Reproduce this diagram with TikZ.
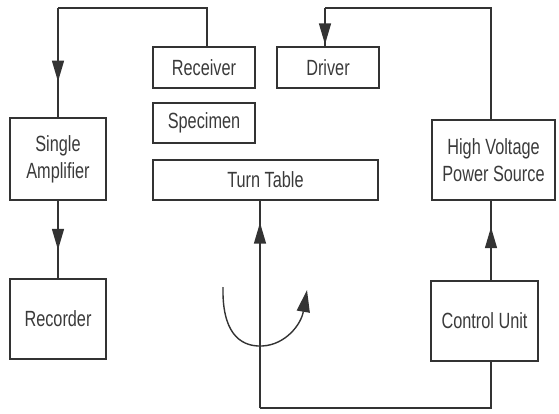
\documentclass[tikz,border=0pt]{standalone}
\usepackage{fontspec}
\newfontfamily\narrowfont[FakeStretch=0.74]{Liberation Sans}
\usetikzlibrary{arrows.meta,decorations.markings}
\definecolor{ink}{HTML}{333333}
\definecolor{txt}{HTML}{3A3A3A}
\tikzset{
  box/.style={draw=ink,line width=1.4pt,inner sep=0pt,align=center,text=txt,
    font=\narrowfont\fontsize{22}{27}\selectfont},
  wire/.style={draw=ink,line width=1.4pt},
  midarrow/.style={postaction={decorate,decoration={markings,
    mark=at position #1 with {\arrow[ink]{Triangle[length=21pt,width=12pt]}}}}}
}
\begin{document}
\begin{tikzpicture}[x=1pt,y=-1pt]
\useasboundingbox (0,0) rectangle (559,413);
% boxes
\node[box,minimum width=102pt,minimum height=41pt] (recv) at (204,67.5) {Receiver};
\node[box,minimum width=102pt,minimum height=40pt] (spec) at (204,123) {Specimen};
\node[box,minimum width=225pt,minimum height=40pt] (turn) at (265.5,180) {Turn Table};
\node[box,minimum width=102pt,minimum height=41pt] (drv) at (328,67.5) {Driver};
\node[box,minimum width=96pt,minimum height=82pt] (amp) at (58,159) {Single\\Amplifier};
\node[box,minimum width=96pt,minimum height=80pt] (rec) at (58,319) {Recorder};
\node[box,minimum width=123pt,minimum height=80pt] (hv) at (493.5,160) {High Voltage\\Power Source};
\node[box,minimum width=107pt,minimum height=80pt] (cu) at (484.5,321) {Control Unit};
% corner coordinates
\coordinate (t1) at (207,8);
\coordinate (t2) at (58,8);
\coordinate (t3) at (491,8);
\coordinate (t4) at (325,8);
\coordinate (b1) at (491,408);
\coordinate (b2) at (260,408);
% receiver -> amplifier
\draw[wire] (recv.north -| t1) -- (t1) -- (t2);
\draw[wire,midarrow=0.673] (t2) -- (amp.north);
% high voltage -> driver
\draw[wire] (hv.north -| t3) -- (t3) -- (t4);
\draw[wire,midarrow=0.95] (t4) -- (drv.north -| t4);
% amplifier -> recorder
\draw[wire,midarrow=0.633] (amp.south) -- (rec.north);
% control unit -> high voltage
\draw[wire,midarrow=0.667] (cu.north -| t3) -- (hv.south -| t3);
% control unit -> turn table
\draw[wire] (cu.south -| b1) -- (b1) -- (b2);
\draw[wire,midarrow=0.894] (b2) -- (turn.south -| b2);
% rotation arrow
\coordinate (r1) at (223,287);
\coordinate (r2) at (262,346);
\coordinate (r3) at (307,290);
\draw[ink,line width=1.4pt,-{Triangle[length=22pt,width=13pt]}] (r1) .. controls (222,330) and (238,347) .. (r2) .. controls (285,345) and (301,325) .. (r3);
\end{tikzpicture}
\end{document}
